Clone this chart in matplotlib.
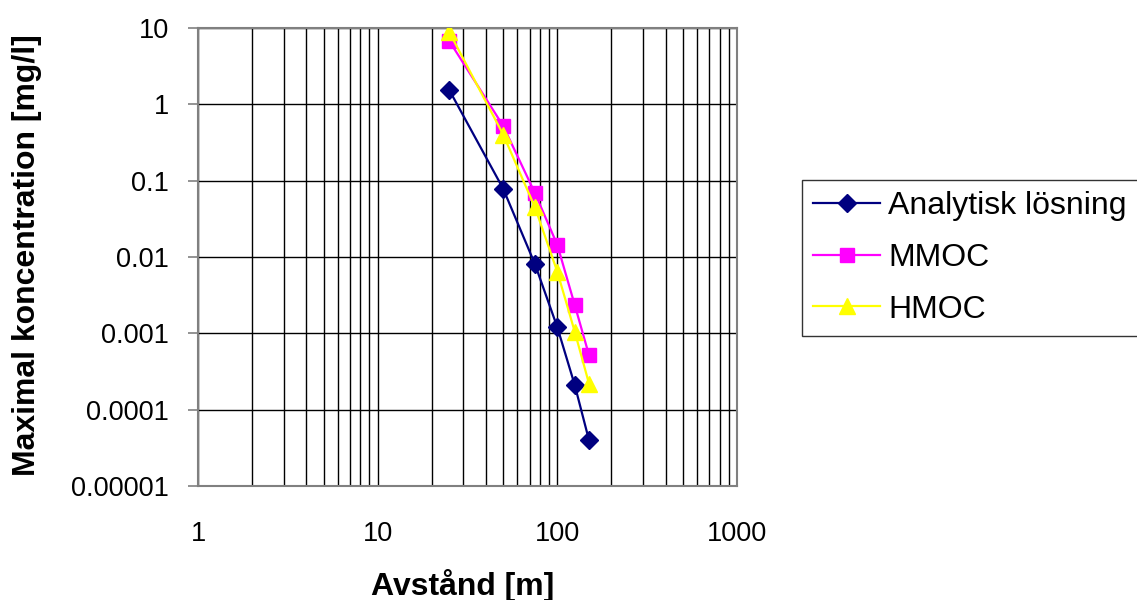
import matplotlib
matplotlib.use("Agg")
import matplotlib.pyplot as plt
from matplotlib.ticker import LogLocator, FixedLocator, FixedFormatter, NullFormatter

plt.rcParams['font.family'] = ['Liberation Sans', 'DejaVu Sans']

distance = [25, 50, 75, 100, 125, 150]
analytisk = [1.55, 0.078, 0.0081, 0.0012, 0.00021, 0.00004]
mmoc = [6.8, 0.52, 0.069, 0.0144, 0.00235, 0.00052]
hmoc = [8.9, 0.40, 0.045, 0.0064, 0.00105, 0.00022]

x_ticks = [1, 10, 100, 1000]
x_labels = ["1", "10", "100", "1000"]
y_ticks = [1e-5, 1e-4, 1e-3, 1e-2, 1e-1, 1, 10]
y_labels = ["0.00001", "0.0001", "0.001", "0.01", "0.1", "1", "10"]

fig = plt.figure(figsize=(11.37, 6.0), dpi=100)
ax = fig.add_axes([198/1137, 1 - 486/600, (737-198)/1137, (486-28)/600])
ax.set_xscale('log')
ax.set_yscale('log')
ax.set_xlim(1, 1000)
ax.set_ylim(1e-5, 10)

ax.plot(distance, analytisk, color='#000080', lw=1.6, marker='D', ms=9,
        mfc='#000080', mec='#000080', label='Analytisk lösning', zorder=3)
ax.plot(distance, mmoc, color='#FF00FF', lw=1.6, marker='s', ms=10,
        mfc='#FF00FF', mec='#FF00FF', label='MMOC', zorder=4)
ax.plot(distance, hmoc, color='#FFFF00', lw=1.6, marker='^', ms=12,
        mfc='#FFFF00', mec='#FFFF00', label='HMOC', zorder=5)

ax.xaxis.set_major_locator(FixedLocator(x_ticks))
ax.xaxis.set_major_formatter(FixedFormatter(x_labels))
ax.xaxis.set_minor_locator(LogLocator(base=10, subs=range(2, 10)))
ax.xaxis.set_minor_formatter(NullFormatter())
ax.yaxis.set_major_locator(FixedLocator(y_ticks))
ax.yaxis.set_major_formatter(FixedFormatter(y_labels))
ax.yaxis.set_minor_locator(FixedLocator([]))

ax.grid(which='major', color='black', lw=1.0)
ax.grid(which='minor', axis='x', color='black', lw=1.0)
ax.set_axisbelow(True)
for s in ax.spines.values():
    s.set_color('#808080')
    s.set_linewidth(1.5)

ax.tick_params(axis='x', which='both', length=0, labelsize=19.5, pad=25)
ax.tick_params(axis='y', which='major', length=7, width=1.2, color='#808080',
               labelsize=19.5, pad=14)

fig.text(463/1137, 1 - 585/600, 'Avstånd [m]', fontsize=23, fontweight='bold',
         ha='center', va='center')
fig.text(27/1137, 1 - 255/600, 'Maximal koncentration [mg/l]', fontsize=23,
         fontweight='bold', ha='center', va='center', rotation=90)

leg = fig.legend(loc='upper left', bbox_to_anchor=(802/1137, 1 - 180/600),
                 fontsize=23, frameon=True, fancybox=False, edgecolor='black',
                 handlelength=2.1, borderpad=0.35, labelspacing=0.68,
                 handletextpad=0.25, borderaxespad=0)
leg.get_frame().set_linewidth(1.0)

fig.savefig('out.png', dpi=100)
